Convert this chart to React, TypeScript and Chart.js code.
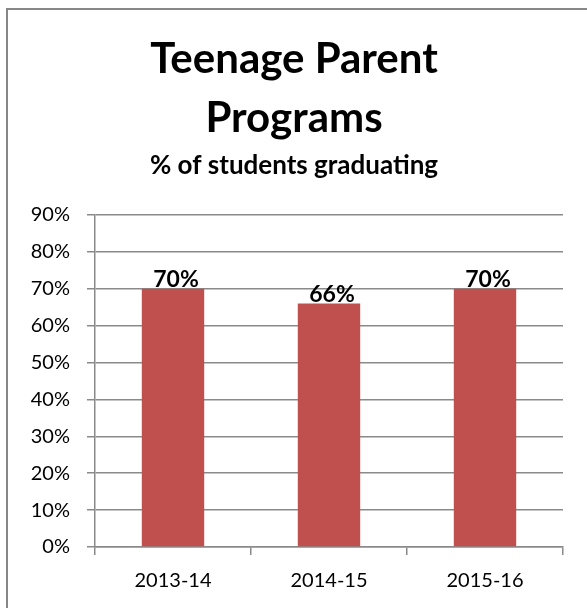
import React, { useEffect, useRef } from "react";
import { Chart, registerables } from "chart.js";

Chart.register(...registerables);

const categories = ["2013-14", "2014-15", "2015-16"];
const graduationRates = [70, 66, 70];
const yTickValues = [0, 10, 20, 30, 40, 50, 60, 70, 80, 90];
const titleLines = ["Teenage Parent", "Programs"];
const subtitleText = "% of students graduating";

const FONT = "Lato, 'Open Sans', sans-serif";
const GRID = "#8a8a8a";
const BAR = "#C0504D";

const frame = {
  id: "frame",
  beforeDraw(chart: any) {
    const ctx = chart.ctx;
    ctx.save();
    ctx.fillStyle = "#ffffff";
    ctx.fillRect(0, 0, chart.width, chart.height);
    ctx.strokeStyle = "#878787";
    ctx.lineWidth = 2;
    ctx.strokeRect(7, 9, chart.width + 40, chart.height + 40);
    ctx.restore();
  },
};

const valueLabels = {
  id: "valueLabels",
  afterDatasetsDraw(chart: any) {
    const ctx = chart.ctx;
    const meta = chart.getDatasetMeta(0);
    ctx.save();
    ctx.font = `bold 23px ${FONT}`;
    ctx.fillStyle = "#000";
    ctx.textAlign = "center";
    ctx.textBaseline = "alphabetic";
    meta.data.forEach((bar: any, i: number) => {
      ctx.fillText(`${graduationRates[i]}%`, bar.x + 3, bar.y - 2);
    });
    ctx.restore();
  },
};

export default function App() {
  const ref = useRef<HTMLCanvasElement>(null);
  useEffect(() => {
    if (!ref.current) return;
    const chart = new Chart(ref.current, {
      type: "bar",
      data: {
        labels: categories,
        datasets: [
          {
            data: graduationRates,
            backgroundColor: BAR,
            barPercentage: 0.4,
            categoryPercentage: 1,
          },
        ],
      },
      plugins: [frame, valueLabels],
      options: {
        responsive: false,
        animation: false,
        layout: { padding: { left: 25, right: 24, top: 30, bottom: 0 } },
        plugins: {
          legend: { display: false },
          tooltip: { enabled: false },
          title: {
            display: true,
            text: titleLines,
            color: "#000",
            font: { family: FONT, size: 42, weight: "bold", lineHeight: 1.4 },
            padding: { top: 0, bottom: 2 },
          },
          subtitle: {
            display: true,
            text: subtitleText,
            color: "#000",
            font: { family: FONT, size: 26, weight: "bold", lineHeight: 1.2 },
            padding: { top: 0, bottom: 34.2 },
          },
        },
        scales: {
          x: {
            afterFit: (s: any) => {
              s.height = 61;
            },
            grid: {
              offset: true,
              drawOnChartArea: false,
              drawTicks: true,
              tickLength: 8,
              color: GRID,
              lineWidth: 1.5,
            },
            border: { display: true, color: GRID, width: 1.5 },
            ticks: {
              color: "#000",
              font: { family: FONT, size: 20 },
              padding: 14,
            },
          },
          y: {
            min: 0,
            max: 90,
            afterFit: (s: any) => {
              s.width = 70;
            },
            afterBuildTicks: (s: any) => {
              s.ticks = yTickValues.map((v) => ({ value: v }));
            },
            grid: {
              drawTicks: true,
              tickLength: 8,
              color: GRID,
              lineWidth: 1.5,
            },
            border: { display: true, color: GRID, width: 1.5 },
            ticks: {
              color: "#000",
              font: { family: FONT, size: 20 },
              padding: 17,
              callback: (v: any) => `${v}%`,
            },
          },
        },
      },
    });
    return () => chart.destroy();
  }, []);
  return (
    <div style={{ position: "fixed", left: 0, top: 0, width: 587, height: 608 }}>
      <canvas ref={ref} width={587} height={608} style={{ display: "block" }} />
    </div>
  );
}
